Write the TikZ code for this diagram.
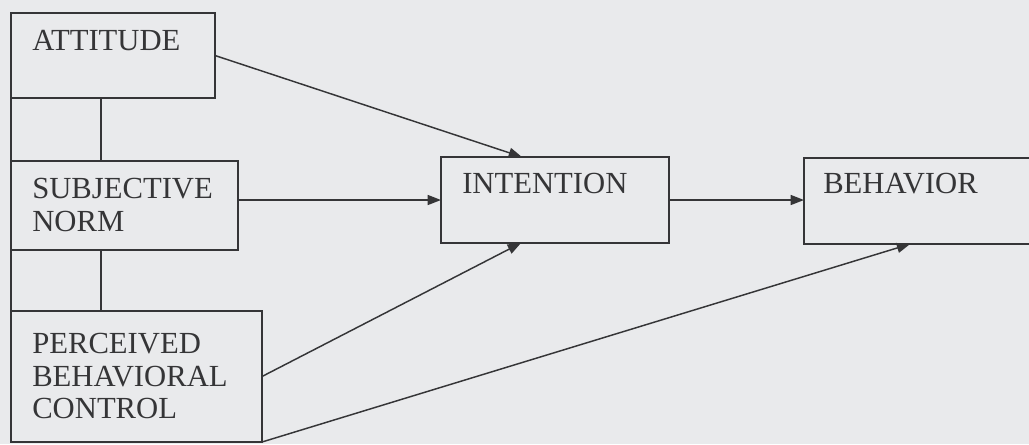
\documentclass[tikz,border=0pt]{standalone}
\usepackage{fontspec}
\setmainfont{Liberation Serif}
\usetikzlibrary{arrows.meta}
\definecolor{bg}{HTML}{E9EAEC}
\definecolor{ink}{HTML}{353537}
\begin{document}
\begin{tikzpicture}[x=0.75pt,y=-0.75pt,
  box/.style={draw=ink, line width=1.3pt, inner sep=0pt, outer sep=0pt, anchor=north west},
  txt/.style={text=ink, font=\fontsize{23pt}{24pt}\selectfont, anchor=base west, inner sep=0pt},
  arr/.style={draw=ink, line width=1.1pt, -{Triangle[length=10pt,width=7.5pt]}},
  link/.style={draw=ink, line width=1.3pt}]
\fill[bg] (0,0) rectangle (1029,444);
\useasboundingbox (0,0) rectangle (1029,444);
% boxes
\node[box, minimum width=153pt, minimum height=63.75pt] (att) at (11,13) {};
\node[box, minimum width=170.25pt, minimum height=66.75pt] (sub) at (11,161) {};
\node[box, minimum width=188.25pt, minimum height=98.25pt] (pbc) at (11,311) {};
\node[box, minimum width=171pt, minimum height=64.5pt] (int) at (441,157) {};
\node[box, minimum width=173.25pt, minimum height=64.5pt] (beh) at (804,158) {};
% texts
\node[txt] (tatt) at ([shift={(21,37)}]att.north west) {ATTITUDE};
\node[txt] (tsub1) at ([shift={(21,37)}]sub.north west) {SUBJECTIVE};
\node[txt] (tsub2) at ([shift={(21,70)}]sub.north west) {NORM};
\node[txt] (tpbc1) at ([shift={(21,42)}]pbc.north west) {PERCEIVED};
\node[txt] (tpbc2) at ([shift={(21,75)}]pbc.north west) {BEHAVIORAL};
\node[txt] (tpbc3) at ([shift={(21,107)}]pbc.north west) {CONTROL};
\node[txt] (tint) at ([shift={(21,36)}]int.north west) {INTENTION};
\node[txt] (tbeh) at ([shift={(19,35)}]beh.north west) {BEHAVIOR};
% links between left boxes
\draw[link] (att.south west) -- (sub.north west);
\draw[link] (sub.south west) -- (pbc.north west);
\draw[link] ([xshift=67.5pt]att.south west) -- ([xshift=67.5pt]sub.north west);
\draw[link] ([xshift=67.5pt]sub.south west) -- ([xshift=67.5pt]pbc.north west);
% arrows
\draw[arr] (att.east) -- ([xshift=-24.75pt]int.north);
\draw[arr] (sub.east |- int.west) -- (int.west);
\draw[arr] (pbc.east) -- ([xshift=-25.5pt]int.south);
\draw[arr] (int.east) -- (beh.west |- int.east);
\draw[arr] (pbc.south east) -- ([xshift=-7pt]beh.south);
\end{tikzpicture}
\end{document}
